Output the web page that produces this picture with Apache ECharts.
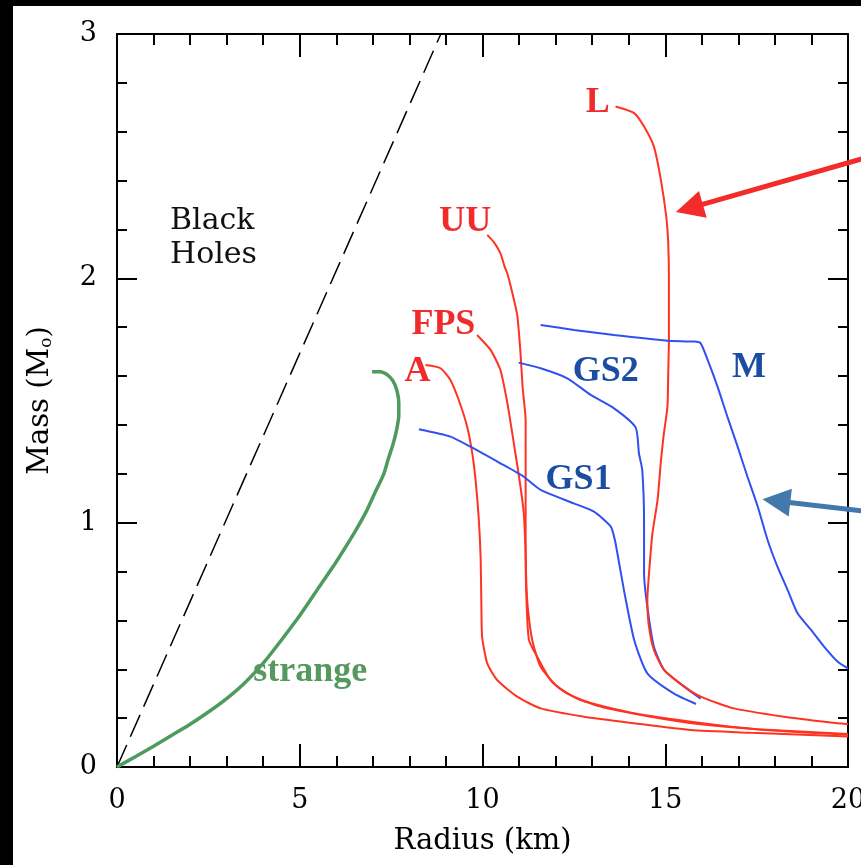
<!DOCTYPE html>
<html>
<head>
<meta charset="utf-8">
<script src="https://cdn.jsdelivr.net/npm/echarts@6/dist/echarts.min.js"></script>
<style>
  html, body { margin: 0; padding: 0; background: #fff; overflow: hidden; width: 100%; height: 100%; }
  #frame-left { position: absolute; left: 0; top: 0; width: 13px; bottom: 0; background: #000; }
  #frame-top { position: absolute; left: 0; top: 0; right: 0; height: 6px; background: #000; }
  #chart { position: absolute; left: 13px; top: 6px; right: 0; bottom: 0; background: #fff; }
</style>
</head>
<body>
<div id="frame-left"></div>
<div id="frame-top"></div>
<div id="chart"></div>
<script>
// mass-radius relations, each point is [radius (km), mass (Msun)]
const blackHoleLimit = [[0, 0], [8.86, 3]];

const strange = [[0, 0], [0.5, 0.042], [1.0, 0.085], [1.5, 0.13], [2.0, 0.175], [2.5, 0.225], [3.0, 0.28],
  [3.5, 0.345], [4.0, 0.425], [4.5, 0.52], [5.0, 0.62], [5.5, 0.73], [6.0, 0.84], [6.5, 0.96],
  [6.8, 1.04], [7.05, 1.12], [7.3, 1.2], [7.42, 1.26], [7.55, 1.32], [7.65, 1.38], [7.71, 1.44],
  [7.71, 1.49], [7.66, 1.54], [7.55, 1.58], [7.4, 1.605], [7.2, 1.618], [6.98, 1.618]];

const eosL = [[13.64, 2.703], [14.15, 2.676], [14.42, 2.621], [14.69, 2.539], [14.88, 2.403], [15.03, 2.25],
  [15.08, 2.15], [15.1, 2.0], [15.1, 1.75], [15.08, 1.6], [15.06, 1.475], [14.95, 1.35], [14.88, 1.25],
  [14.79, 1.093], [14.65, 0.957], [14.56, 0.8], [14.51, 0.684], [14.55, 0.58], [14.69, 0.479],
  [14.97, 0.397], [15.52, 0.329], [15.97, 0.288], [16.88, 0.24], [18.25, 0.206], [19.53, 0.182], [20, 0.175]];

const eosUU = [[10.13, 2.178], [10.3, 2.15], [10.49, 2.103], [10.6, 2.05], [10.68, 2.02], [10.8, 1.95],
  [10.95, 1.85], [11.04, 1.693], [11.1, 1.55], [11.18, 1.42], [11.18, 1.1], [11.18, 0.875], [11.2, 0.7],
  [11.27, 0.52], [11.5, 0.45], [11.86, 0.356], [12.32, 0.3], [13.23, 0.247], [14.6, 0.206],
  [15.97, 0.175], [17.5, 0.155], [20, 0.135]];

const eosFPS = [[9.85, 1.768], [10.22, 1.707], [10.49, 1.625], [10.68, 1.489], [10.9, 1.284], [11.04, 1.147],
  [11.13, 1.038], [11.18, 0.875], [11.2, 0.75], [11.24, 0.65], [11.36, 0.52], [11.59, 0.41],
  [12.05, 0.329], [12.68, 0.274], [14.15, 0.22], [15.97, 0.18], [17.5, 0.155], [20, 0.132]];

const eosA = [[8.44, 1.645], [8.85, 1.632], [9.12, 1.584], [9.35, 1.502], [9.58, 1.393], [9.72, 1.284],
  [9.81, 1.175], [9.9, 1.011], [9.95, 0.85], [9.97, 0.65], [9.99, 0.533], [10.13, 0.424], [10.4, 0.356],
  [10.95, 0.288], [11.59, 0.24], [12.78, 0.206], [14.15, 0.179], [15.7, 0.151], [17.34, 0.14], [20, 0.125]];

const eosGS1 = [[8.26, 1.382], [9.12, 1.352], [9.67, 1.311], [10.49, 1.243], [11.13, 1.188], [11.59, 1.134],
  [12.5, 1.079], [13.05, 1.045], [13.51, 0.984], [13.62, 0.93], [13.69, 0.875], [13.87, 0.724],
  [14.15, 0.52], [14.51, 0.383], [15.24, 0.3], [15.84, 0.258]];

const eosGS2 = [[10.99, 1.655], [11.59, 1.632], [12.32, 1.591], [12.96, 1.523], [13.6, 1.468], [14.19, 1.39],
  [14.28, 1.284], [14.37, 1.216], [14.42, 1.0], [14.42, 0.793], [14.51, 0.656], [14.69, 0.492],
  [14.97, 0.397], [15.52, 0.329], [15.97, 0.28]];

const eosM = [[11.59, 1.809], [12.5, 1.789], [13.6, 1.768], [15.06, 1.745], [15.79, 1.741], [15.97, 1.734],
  [16.16, 1.666], [16.43, 1.557], [16.7, 1.434], [16.98, 1.311], [17.25, 1.188], [17.53, 1.066],
  [17.8, 0.929], [18.07, 0.82], [18.35, 0.724], [18.62, 0.629], [18.99, 0.561], [19.35, 0.492],
  [19.72, 0.431], [20, 0.404]];

// curve names, placed at [text, radius, mass]
const redTags = [['L', 13.15, 2.718], ['UU', 9.53, 2.231], ['FPS', 8.93, 1.809], ['A', 8.22, 1.617]];
const blueTags = [['GS2', 13.37, 1.617], ['GS1', 12.63, 1.175], ['M', 17.29, 1.633]];
const greenTags = [['strange', 5.29, 0.389]];
const blackTags = [['Black\nHoles', 1.45, 2.165]];

// arrows pointing at curves (tail, head)
const redArrow = [[20.4, 2.49], [15.66, 2.287]];
const blueArrow = [[20.4, 1.048], [18.04, 1.089]];

const xTicks = { min: 0, max: 20, interval: 5 };
const yTicks = { min: 0, max: 3, interval: 1 };

const axisFont = 'DejaVu Serif';
const tagFont = 'Liberation Serif';
const RED = '#ff3322';
const BLUE = '#3050f0';

const chart = echarts.init(document.getElementById('chart'));

function axisCommon(tickLen, minorLen) {
  return {
    type: 'value',
    splitLine: { show: false },
    axisLine: { onZero: false, lineStyle: { color: '#000', width: 2 } },
    axisTick: { inside: true, length: tickLen, lineStyle: { color: '#000', width: 2 } },
    minorTick: { show: true, splitNumber: 5, length: minorLen, lineStyle: { color: '#000', width: 2 } },
    axisLabel: { color: '#000', fontFamily: axisFont, fontSize: 27, margin: 20 }
  };
}

function curve(data, color, width, extra) {
  return Object.assign({
    type: 'line', data: data, showSymbol: false, symbol: 'none', smooth: 0.2,
    lineStyle: { color: color, width: width }, silent: true
  }, extra || {});
}

function tags(list, color, font, weight, size, align) {
  return {
    type: 'scatter', symbolSize: 0, silent: true, z: 5,
    itemStyle: { opacity: 1 },
    data: list.map(t => ({ value: [t[1], t[2]], label: { formatter: t[0] } })),
    label: {
      show: true, position: align === 'left' ? 'right' : 'inside', distance: 0, opacity: 1,
      color: color, fontFamily: font, fontWeight: weight, fontSize: size, lineHeight: size * 1.15
    }
  };
}

function arrow(coords, color) {
  return {
    type: 'lines', coordinateSystem: 'cartesian2d', clip: false, silent: true, z: 6,
    symbol: ['none', 'triangle'], symbolSize: 28,
    lineStyle: { color: color, width: 5, opacity: 1, curveness: 0 },
    data: [{ coords: coords }]
  };
}

chart.setOption({
  animation: false,
  backgroundColor: '#fff',
  grid: { left: 104, right: 13, top: 28, bottom: 98, containLabel: false, outerBoundsMode: 'none' },
  xAxis: [
    Object.assign(axisCommon(23, 11), xTicks, {
      position: 'bottom',
      name: 'Radius (km)', nameLocation: 'middle', nameGap: 60,
      nameTextStyle: { color: '#000', fontFamily: axisFont, fontSize: 29 }
    }),
    Object.assign(axisCommon(23, 11), xTicks, { position: 'top', axisLabel: { show: false } })
  ],
  yAxis: [
    Object.assign(axisCommon(20, 10), yTicks, {
      position: 'left',
      name: 'Mass (M{sub|o})', nameLocation: 'middle', nameGap: 62,
      nameTextStyle: {
        color: '#000', fontFamily: axisFont, fontSize: 29,
        rich: { sub: { fontFamily: axisFont, fontSize: 17, color: '#000', verticalAlign: 'bottom' } }
      }
    }),
    Object.assign(axisCommon(20, 10), yTicks, { position: 'right', axisLabel: { show: false } })
  ],
  series: [
    curve(blackHoleLimit, '#000', 1.5, { smooth: false, lineStyle: { color: '#000', width: 1.5, type: [24, 9] } }),
    curve(strange, '#4f9a5f', 3.5, { smooth: 0.2 }),
    curve(eosA, RED, 2),
    curve(eosFPS, RED, 2),
    curve(eosUU, RED, 2),
    curve(eosGS1, BLUE, 2),
    curve(eosGS2, BLUE, 2),
    curve(eosL, RED, 2),
    curve(eosM, BLUE, 2),
    tags(redTags, '#f02b2b', tagFont, 'bold', 36),
    tags(blueTags, '#1b4ea3', tagFont, 'bold', 36),
    tags(greenTags, '#55995f', tagFont, 'bold', 36),
    tags(blackTags, '#111', axisFont, 'normal', 30, 'left'),
    arrow(redArrow, '#f22b2b'),
    arrow(blueArrow, '#4379aa')
  ]
});
</script>
</body>
</html>
